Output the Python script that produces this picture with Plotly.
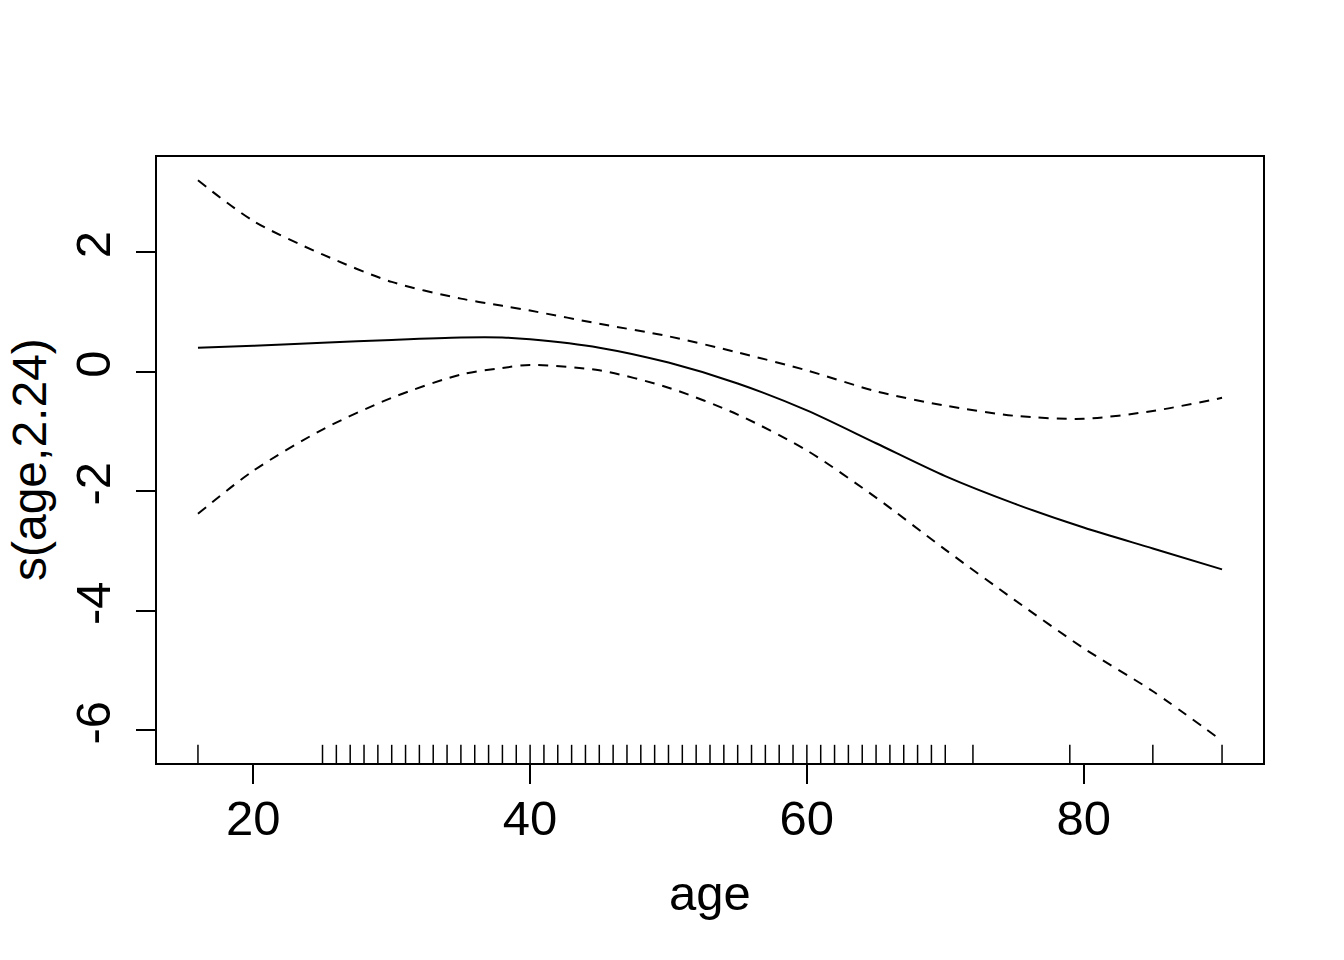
import plotly.graph_objects as go

# Smooth term estimate and +/- 2 SE bands
age = [16, 20, 25, 30, 35, 38, 40, 45, 50, 55, 60, 65, 70, 75, 80, 85, 90]
fit = [0.40, 0.43, 0.48, 0.53, 0.57, 0.57, 0.54, 0.40, 0.15, -0.20, -0.65, -1.20, -1.75, -2.21, -2.61, -2.96, -3.31]
upper = [3.20, 2.52, 1.96, 1.50, 1.22, 1.10, 1.02, 0.80, 0.59, 0.32, 0.02, -0.33, -0.57, -0.74, -0.79, -0.66, -0.44]
lower = [-2.38, -1.66, -0.97, -0.44, -0.05, 0.06, 0.11, 0.02, -0.27, -0.72, -1.32, -2.11, -2.98, -3.82, -4.63, -5.35, -6.18]

# Rug (observed ages)
rug_ages = [16] + list(range(25, 71)) + [72, 79, 85, 90]

x_ticks = [20, 40, 60, 80]
y_ticks = [-6, -4, -2, 0, 2]
y_ticktext = ["-6", "-4", "-2", "0", "2"]

x_range = [13.04, 92.96]
y_range = [-6.55, 3.59]

FONT = "Liberation Sans, Arial, sans-serif"

fig = go.Figure()

line_style = dict(color="black", width=2, shape="spline", smoothing=0.8)
dash_style = dict(color="black", width=2, dash="10px,8px", shape="spline", smoothing=0.8)

fig.add_trace(go.Scatter(x=age, y=fit, mode="lines", line=line_style,
                         showlegend=False, hoverinfo="skip"))
fig.add_trace(go.Scatter(x=age, y=upper, mode="lines", line=dash_style,
                         showlegend=False, hoverinfo="skip"))
fig.add_trace(go.Scatter(x=age, y=lower, mode="lines", line=dash_style,
                         showlegend=False, hoverinfo="skip"))

rug_top = y_range[0] + 0.03 * (y_range[1] - y_range[0])
rx, ry = [], []
for a in rug_ages:
    rx += [a, a, None]
    ry += [y_range[0], rug_top, None]
fig.add_trace(go.Scatter(x=rx, y=ry, mode="lines", line=dict(color="black", width=1.5),
                         showlegend=False, hoverinfo="skip"))

fig.update_layout(
    width=1344, height=960,
    margin=dict(l=149, r=89, t=149, b=205, pad=0),
    paper_bgcolor="white", plot_bgcolor="white",
    font=dict(family=FONT, size=48, color="black"),
    xaxis=dict(range=x_range, tickvals=x_ticks, ticks="outside", ticklen=19, tickwidth=2,
               tickcolor="black", showline=True, linewidth=2, linecolor="black", mirror=True,
               showgrid=False, zeroline=False, tickfont=dict(size=49), ticklabelstandoff=-8,
               automargin=False,
               title=dict(text="age", font=dict(size=49), standoff=32)),
    yaxis=dict(range=y_range, tickvals=y_ticks, ticktext=y_ticktext, tickangle=-90,
               ticks="outside", ticklen=19, tickwidth=2,
               tickcolor="black", showline=True, linewidth=2, linecolor="black", mirror=True,
               showgrid=False, zeroline=False, tickfont=dict(size=49), ticklabelstandoff=6,
               automargin=False),
    annotations=[dict(text="s(age,2.24)", xref="paper", yref="paper", x=0, y=0.5,
                      xanchor="center", yanchor="middle", xshift=-128, textangle=-90,
                      showarrow=False, font=dict(family=FONT, size=48, color="black"))],
)

fig.write_html("out.html")
